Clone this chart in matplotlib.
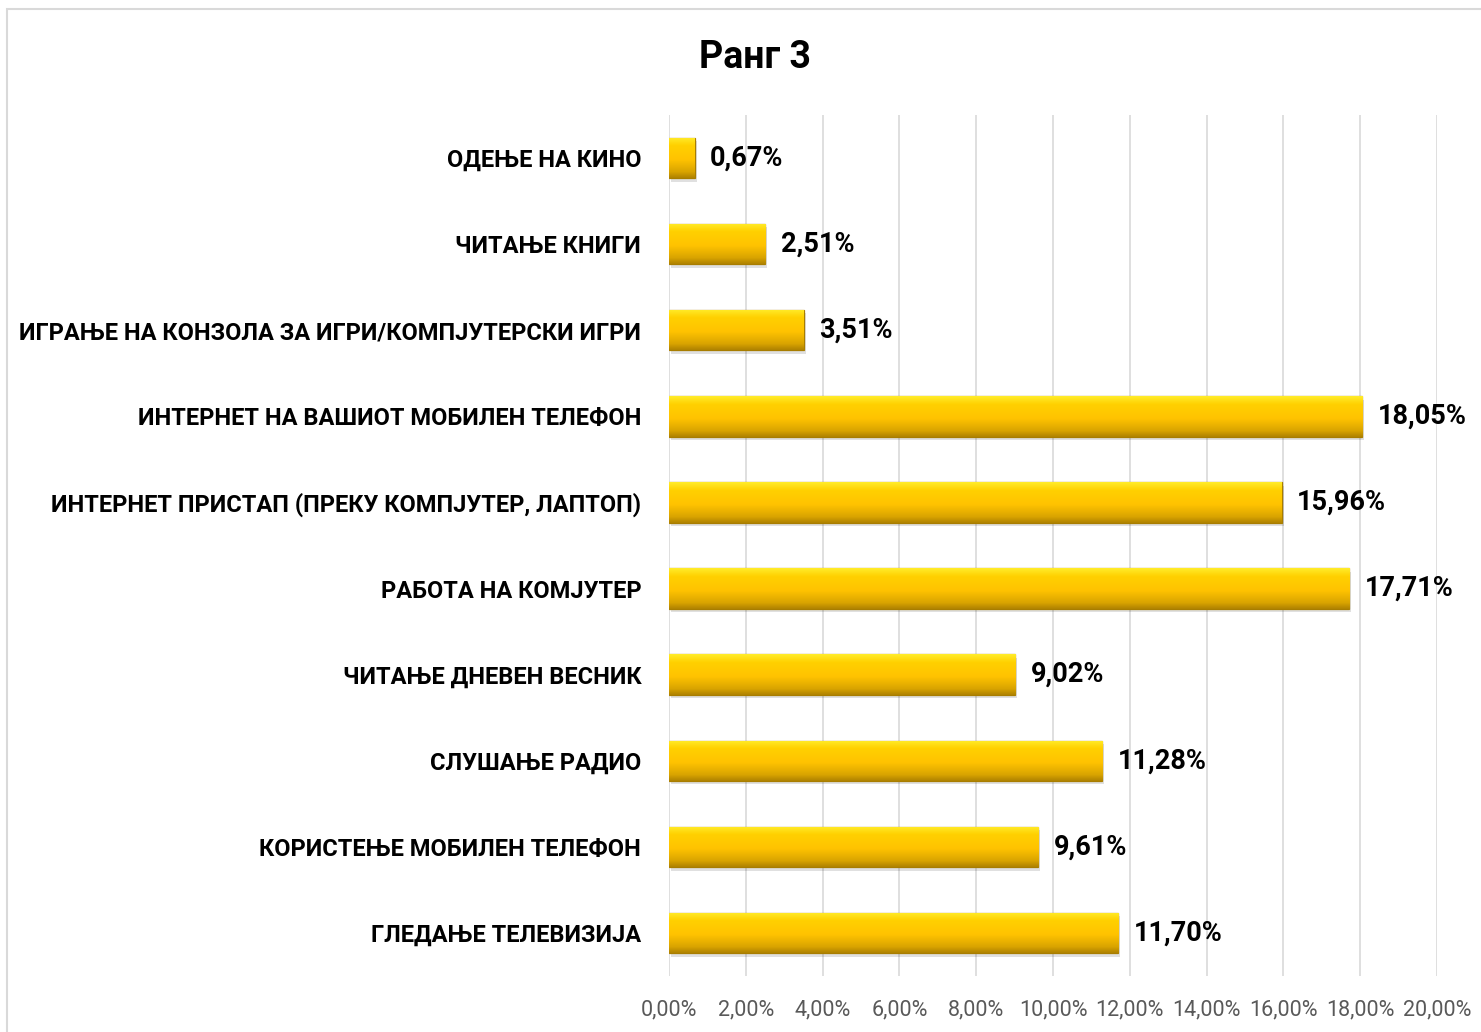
import numpy as np
import matplotlib.pyplot as plt
from matplotlib.patches import Rectangle
from matplotlib.colors import LinearSegmentedColormap

plt.rcParams['font.family'] = ['Roboto', 'DejaVu Sans']

# bottom to top
categories = ['ГЛЕДАЊЕ ТЕЛЕВИЗИЈА', 'КОРИСТЕЊЕ МОБИЛЕН ТЕЛЕФОН', 'СЛУШАЊЕ РАДИО',
              'ЧИТАЊЕ ДНЕВЕН ВЕСНИК', 'РАБОТА НА КОМЈУТЕР',
              'ИНТЕРНЕТ ПРИСТАП (ПРЕКУ КОМПЈУТЕР, ЛАПТОП)',
              'ИНТЕРНЕТ НА ВАШИОТ МОБИЛЕН ТЕЛЕФОН',
              'ИГРАЊЕ НА КОНЗОЛА ЗА ИГРИ/КОМПЈУТЕРСКИ ИГРИ',
              'ЧИТАЊЕ КНИГИ', 'ОДЕЊЕ НА КИНО']
values = [11.70, 9.61, 11.28, 9.02, 17.71, 15.96, 18.05, 3.51, 2.51, 0.67]
xticks = np.arange(0, 21, 2)

fig = plt.figure(figsize=(14.81, 10.32), dpi=100)
ax = fig.add_axes([669/1481, 56/1032, 768/1481, 861/1032])

# chart border
fig.patches.append(Rectangle((7/1481, -0.01), 1.1, 1 - 9/1032 + 0.01, transform=fig.transFigure,
                             fill=False, edgecolor='#D9D9D9', linewidth=1.5))

gold = LinearSegmentedColormap.from_list(
    'gold', [(0, '#B08300'), (0.15, '#D9A400'), (0.45, '#FFC300'),
             (0.8, '#FFD000'), (1, '#FFEC2A')])
grad = np.linspace(0, 1, 100).reshape(-1, 1)

y = np.arange(len(categories))
h = 0.47
bars = ax.barh(y, values, height=h, color='#FFC800', edgecolor='#A87D00', linewidth=0.9, zorder=3)
for b, v in zip(bars, values):
    x0, y0 = b.get_x(), b.get_y()
    im = ax.imshow(grad, cmap=gold, aspect='auto', origin='lower',
                   extent=[x0, x0 + b.get_width(), y0, y0 + b.get_height()], zorder=3.5)
    im.set_clip_path(b)
    # shadow
    ax.add_patch(Rectangle((x0 + 0.05, y0 - 0.04), b.get_width(), b.get_height(),
                           facecolor='#000000', alpha=0.12, linewidth=0, zorder=2.5))
    ax.text(v + 0.4, b.get_y() + h / 2, f'{v:.2f}%'.replace('.', ','), va='center', ha='left',
            fontsize=19.5, fontweight='bold', color='black', zorder=5)

ax.set_xlim(0, 20)
ax.set_ylim(-0.5, len(categories) - 0.5)
ax.set_xticks(xticks)
ax.set_xticklabels([f'{t:.2f}%'.replace('.', ',') for t in xticks], fontsize=15.5, color='#595959')
ax.set_yticks(y)
ax.set_yticklabels(categories, fontsize=17, fontweight='bold', color='black')
ax.tick_params(axis='x', length=0, pad=17)
ax.tick_params(axis='y', length=0, pad=20)
ax.grid(axis='x', color='#D9D9D9', linewidth=1.2, zorder=0)
ax.set_axisbelow(True)
for s in ax.spines.values():
    s.set_visible(False)

fig.text(755/1481, 1 - 58/1032, 'Ранг 3', ha='center', va='center', fontsize=27, fontweight='bold')

fig.savefig('out.png', dpi=100)
